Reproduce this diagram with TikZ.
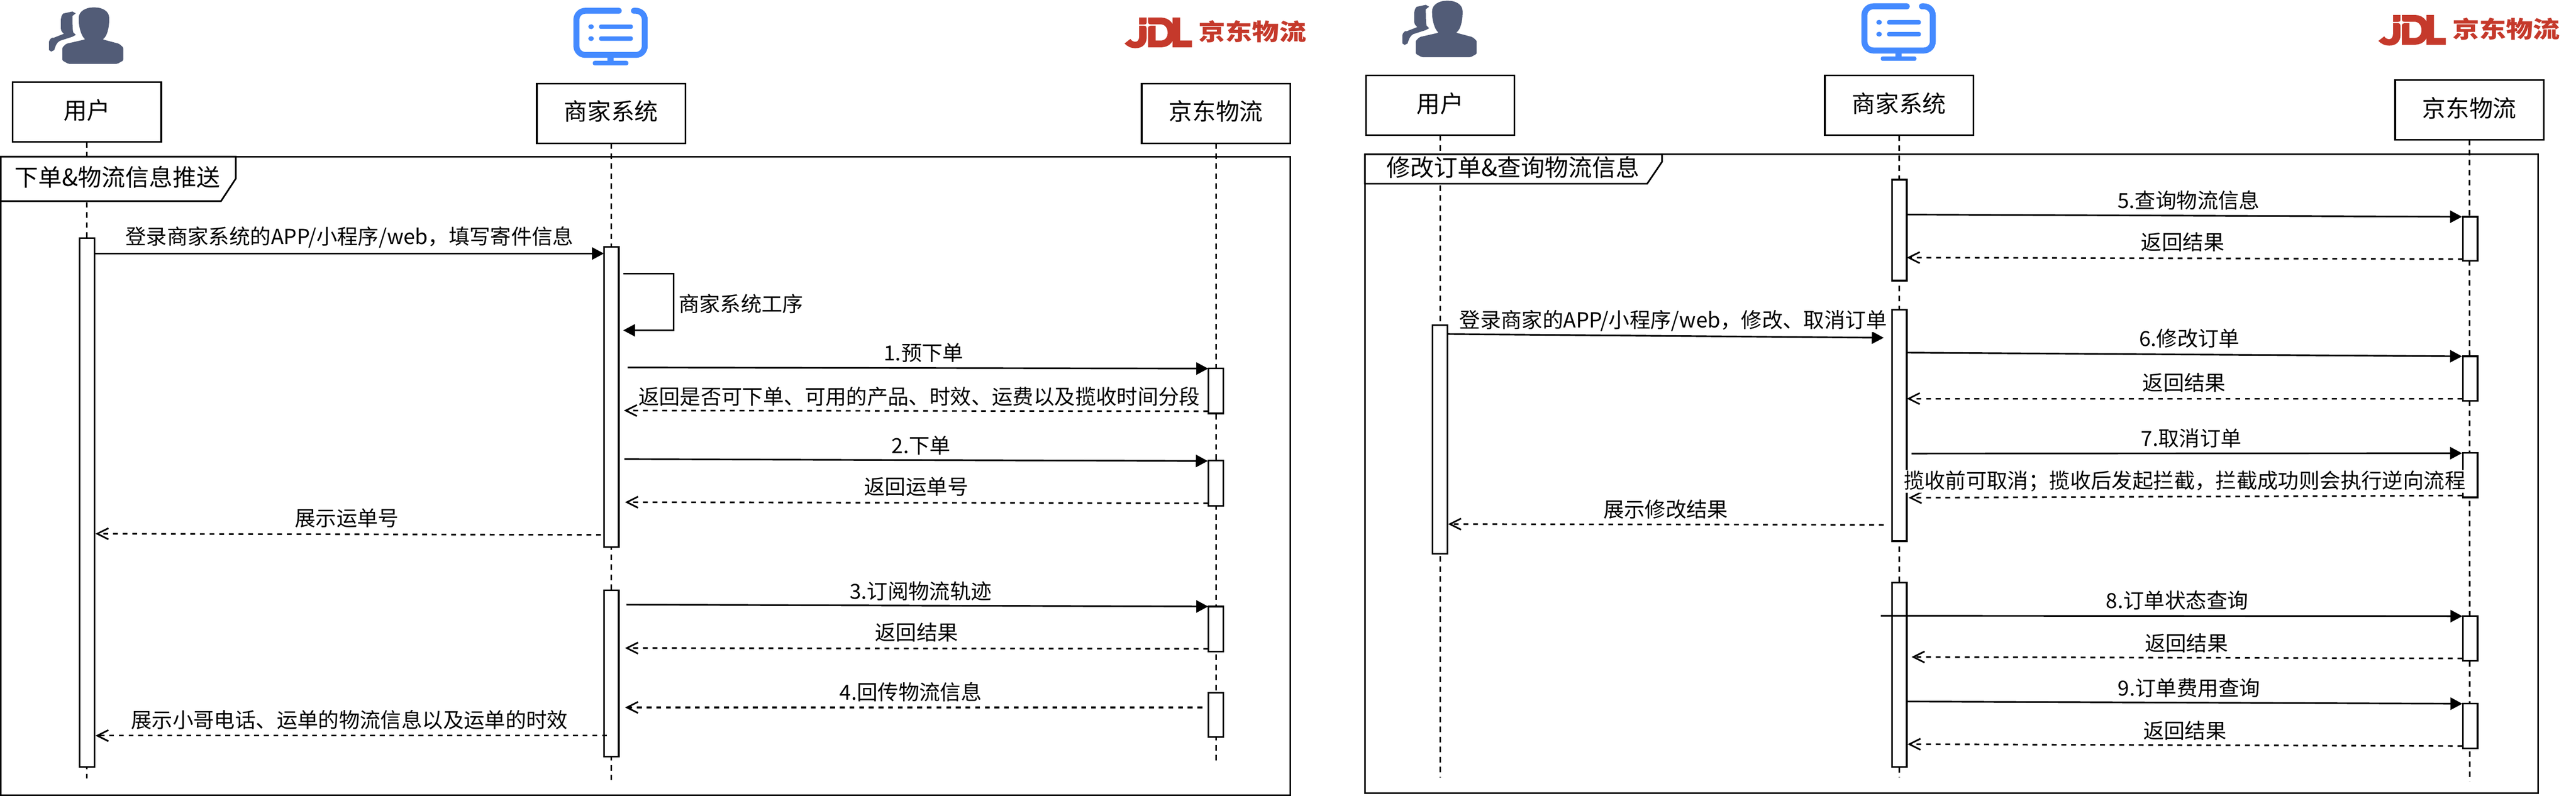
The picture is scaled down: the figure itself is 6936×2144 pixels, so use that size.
\documentclass[tikz,border=0pt]{standalone}
\usepackage{graphicx}
\usepackage{fontspec}
\setmainfont{Noto Sans CJK SC}
\usetikzlibrary{arrows.meta}
\definecolor{usercol}{HTML}{525C77}
\definecolor{moncol}{HTML}{448AFF}
\definecolor{jdlcol}{HTML}{C5392B}
\newcommand\actbar[4]{\node[actbox,minimum height={(#4-#3)*0.01cm}] (#1) at (#2,{(#3+#4)/2}) {};}
\tikzset{
  base/.style={line width=.044cm,draw=black},
  partbox/.style={base,fill=white,minimum width=4.0cm,minimum height=1.61cm,inner sep=0pt,outer sep=0pt,
    font=\fontsize{18pt}{20pt}\selectfont,text height=.60cm,text depth=.22cm},
  lifeline/.style={base,dash pattern=on .15cm off .12cm},
  framebox/.style={base},
  tabbox/.style={base,fill=white},
  tabtext/.style={inner sep=0pt,font=\fontsize{18.1pt}{20pt}\selectfont},
  actbox/.style={base,fill=white,minimum width=.40cm,inner sep=0pt,outer sep=0pt},
  msgsolid/.style={base,-{Triangle[length=.32cm,width=.33cm]}},
  msgret/.style={base,dash pattern=on .13cm off .13cm,-{Straight Barb[length=.30cm,width=.30cm]}},
  lbl/.style={fill=white,inner sep=.5pt,font=\fontsize{15.93pt}{18pt}\selectfont},
  pics/usericon/.style={code={
    \fill[usercol,rounded corners=.03cm] (168,163) -- (168,128) -- (178,118) -- (230,106) .. controls (220,98) and (212,75) .. (212,51)
      .. controls (212,30) and (232,20) .. (253,20) .. controls (275,20) and (294,30) .. (294,51)
      .. controls (294,75) and (288,98) .. (276,106) -- (321,118) -- (332,128) -- (332,163) -- (316,172) -- (184,172) -- cycle;
    \fill[usercol] (195,31) -- (204,36) -- (195,43) .. controls (195,60) and (195,75) .. (197,87) -- (204,94) -- (195,99)
      -- (161,110) .. controls (152,115) and (149,125) .. (146,135) -- (138,139) -- (132,135) -- (132,112)
      .. controls (134,105) and (140,100) .. (144,102) -- (172,91) .. controls (165,85) and (164,80) .. (164,77)
      -- (164,51) .. controls (165,42) and (170,35) .. (172,36) -- cycle;
  }},
  pics/monicon/.style={code={
    \draw[moncol,line width=.16cm,rounded corners=.24cm,line cap=round] (1666,29) -- (1552,29) -- (1552,148) -- (1736,148) -- (1736,29) -- (1707,29);
    \fill[moncol,rounded corners=.05cm] (1613,66) rectangle (1704,78);
    \fill[moncol,rounded corners=.05cm] (1613,98) rectangle (1704,110);
    \fill[moncol] (1591.5,72) ellipse [x radius=.075cm,y radius=.065cm];
    \fill[moncol] (1591.5,104) ellipse [x radius=.075cm,y radius=.065cm];
    \fill[moncol] (1636,150) rectangle (1652,166);
    \fill[moncol,rounded corners=.05cm] (1596,164) rectangle (1692,176);
  }},
  pics/jdlicon/.style={code={
    \begin{scope}[shift={(3000,30)},x=0.0035714cm,y=-0.0033333cm]
      \fill[jdlcol] (188,52) -- (245,52) -- (245,92) .. controls (245,102) and (238,108) .. (228,108) -- (188,108) -- cycle;
      \fill[jdlcol] (188,118) -- (225,118) .. controls (238,118) and (245,128) .. (245,140) -- (245,210)
        .. controls (245,270) and (210,300) .. (160,300) .. controls (125,300) and (98,285) .. (78,262) -- (122,225)
        .. controls (130,240) and (145,248) .. (160,248) .. controls (178,248) and (188,230) .. (188,205) -- cycle;
      \fill[jdlcol] (255,52) -- (350,52) .. controls (395,52) and (425,75) .. (440,105) -- (440,52) -- (497,52) -- (497,238)
        -- (586,238) -- (586,293) -- (440,293) -- (440,240) .. controls (425,272) and (395,293) .. (350,293) -- (255,293)
        -- (255,140) .. controls (255,125) and (265,118) .. (275,118) -- (312,118) -- (312,238) -- (350,238)
        .. controls (385,238) and (403,210) .. (403,175) .. controls (403,140) and (385,107) .. (350,107) -- (275,107)
        .. controls (262,107) and (255,100) .. (255,90) -- cycle;
      \node[inner sep=0pt,text=jdlcol,font=\fontsize{20.6pt}{22pt}\selectfont\bfseries] (#1) at (1042,164) {\scalebox{1}[.86]{京东物流}};
    \end{scope}
  }},
}
\begin{document}
\begin{tikzpicture}[x=0.01cm,y=-0.01cm]
\useasboundingbox (0,0) rectangle (6936,2144);
\fill[white] (0,0) rectangle (6936,2144);
% icons
\pic at (0,0) {usericon};
\pic at (3644,-18) {usericon};
\pic at (0,0) {monicon};
\pic at (3468,-12) {monicon};
\pic at (0,0) {jdlicon=jdlA};
\pic at (3376,-7) {jdlicon=jdlB};
%
% ===== left panel =====
\node[partbox] (u) at (234,302) {用户};
\node[partbox] (m) at (1645.5,305.5) {商家系统};
\node[partbox] (l) at (3274,305.5) {京东物流};
\coordinate (uend) at (234,2097);
\coordinate (mend) at (1645.5,2102);
\coordinate (lend) at (3274,2053);
\draw[lifeline] (u.south) -- (uend);
\draw[lifeline] (m.south) -- (mend);
\draw[lifeline] (l.south) -- (lend);
\draw[framebox] (2,422) rectangle (3474,2142);
\draw[tabbox] (2,422) -- (635,422) -- (635,481) -- (595,542) -- (2,542) -- cycle;
\node[tabtext] (ft) at (316,477) {下单\&物流信息推送};
\actbar{ua}{234}{641}{2066}
\actbar{ma}{1646}{665}{1474}
\actbar{mb}{1646}{1590}{2038}
\actbar{la}{3274}{993}{1114}
\actbar{lb}{3274}{1241}{1363}
\actbar{lc}{3274}{1634}{1755}
\actbar{ld}{3274}{1866}{1986}
% messages
\coordinate (a1) at (254,683); \coordinate (a2) at (1626,683);
\draw[msgsolid] (a1) -- (a2);
\node[lbl] (t1) at (941,640) {登录商家系统的APP/小程序/web，填写寄件信息};
\coordinate (s1) at (1678,737); \coordinate (s2) at (1814,737); \coordinate (s3) at (1814,890); \coordinate (s4) at (1678,890);
\draw[msgsolid] (s1) -- (s2) -- (s3) -- (s4);
\node[lbl] (t2) at (1995,819) {商家系统工序};
\coordinate (b1) at (1690,990); \coordinate (b2) at (3253,993);
\draw[msgsolid] (b1) -- (b2);
\node[lbl] (t3) at (2487,951) {1.预下单};
\coordinate (c1) at (3253,1108); \coordinate (c2) at (1680,1106);
\draw[msgret] (c1) -- (c2);
\node[lbl] (t4) at (2475,1068) {返回是否可下单、可用的产品、时效、运费以及揽收时间分段};
\coordinate (d1) at (1681,1237); \coordinate (d2) at (3252,1242);
\draw[msgsolid] (d1) -- (d2);
\node[lbl] (t5) at (2480,1200) {2.下单};
\coordinate (e1) at (3253,1356); \coordinate (e2) at (1683,1353);
\draw[msgret] (e1) -- (e2);
\node[lbl] (t6) at (2467,1312) {返回运单号};
\coordinate (f1) at (1618,1441); \coordinate (f2) at (257,1438);
\draw[msgret] (f1) -- (f2);
\node[lbl] (t7) at (934,1396) {展示运单号};
\coordinate (g1) at (1687,1629); \coordinate (g2) at (3253,1634);
\draw[msgsolid] (g1) -- (g2);
\node[lbl] (t8) at (2479,1592) {3.订阅物流轨迹};
\coordinate (h1) at (3253,1748); \coordinate (h2) at (1683,1746);
\draw[msgret] (h1) -- (h2);
\node[lbl] (t9) at (2468,1704) {返回结果};
\coordinate (i1) at (3237,1906); \coordinate (i2) at (1683,1906);
\draw[msgret] (i1) -- (i2);
\node[lbl] (t10) at (2452,1865) {4.回传物流信息};
\coordinate (j1) at (1634,1982); \coordinate (j2) at (257,1982);
\draw[msgret] (j1) -- (j2);
\node[lbl] (t11) at (941,1940) {展示小哥电话、运单的物流信息以及运单的时效};
%
% ===== right panel =====
\node[partbox] (U) at (3878,283.5) {用户};
\node[partbox] (M) at (5113.5,284) {商家系统};
\node[partbox] (L) at (6649,296) {京东物流};
\coordinate (Uend) at (3878,2094);
\coordinate (Mend) at (5114,2094);
\coordinate (Lend) at (6650,2106);
\draw[lifeline] (U.south) -- (Uend);
\draw[lifeline] (M.south) -- (Mend);
\draw[lifeline] (L.south) -- (Lend);
\draw[framebox] (3675,416) rectangle (6834,2137);
\draw[tabbox] (3675,416) -- (4475,416) -- (4475,436) -- (4435,495) -- (3675,495) -- cycle;
\node[tabtext] (FT) at (4074,451) {修改订单\&查询物流信息};
\actbar{Ua}{3877}{876}{1492}
\actbar{Ma}{5114}{484}{756}
\actbar{Mb}{5114}{834}{1458}
\actbar{Mc}{5114}{1570}{2066}
\actbar{La}{6651}{584}{703}
\actbar{Lb}{6651}{960}{1080}
\actbar{Lc}{6651}{1220}{1340}
\actbar{Ld}{6651}{1660}{1780}
\actbar{Le}{6651}{1896}{2016}
\coordinate (A1) at (5135,578); \coordinate (A2) at (6629,584);
\draw[msgsolid] (A1) -- (A2);
\node[lbl] (T1) at (5893,540) {5.查询物流信息};
\coordinate (B1) at (6631,698); \coordinate (B2) at (5134,694);
\draw[msgret] (B1) -- (B2);
\node[lbl] (T2) at (5877,652) {返回结果};
\coordinate (C1) at (3898,900); \coordinate (C2) at (5072,910);
\draw[msgsolid] (C1) -- (C2);
\node[lbl] (T3) at (4505,864) {登录商家的APP/小程序/web，修改、取消订单};
\coordinate (D1) at (5133,950); \coordinate (D2) at (6629,960);
\draw[msgsolid] (D1) -- (D2);
\node[lbl] (T4) at (5895,912) {6.修改订单};
\coordinate (E1) at (6630,1074); \coordinate (E2) at (5134,1074);
\draw[msgret] (E1) -- (E2);
\node[lbl] (T5) at (5881,1031) {返回结果};
\coordinate (F1) at (5147,1222); \coordinate (F2) at (6629,1221);
\draw[msgsolid] (F1) -- (F2);
\node[lbl] (T6) at (5900,1180) {7.取消订单};
\coordinate (G1) at (6630,1335); \coordinate (G2) at (5139,1341);
\draw[msgret] (G1) -- (G2);
\node[lbl] (T7) at (5882,1297) {揽收前可取消；揽收后发起拦截，拦截成功则会执行逆向流程};
\coordinate (H1) at (5072,1414); \coordinate (H2) at (3899,1412);
\draw[msgret] (H1) -- (H2);
\node[lbl] (T8) at (4485,1372) {展示修改结果};
\coordinate (I1) at (5064,1659); \coordinate (I2) at (6630,1660);
\draw[msgsolid] (I1) -- (I2);
\node[lbl] (T9) at (5862,1618) {8.订单状态查询};
\coordinate (J1) at (6630,1774); \coordinate (J2) at (5147,1770);
\draw[msgret] (J1) -- (J2);
\node[lbl] (T10) at (5887,1733) {返回结果};
\coordinate (K1) at (5134,1890); \coordinate (K2) at (6630,1896);
\draw[msgsolid] (K1) -- (K2);
\node[lbl] (T11) at (5894,1853) {9.订单费用查询};
\coordinate (N1) at (6630,2010); \coordinate (N2) at (5136,2005);
\draw[msgret] (N1) -- (N2);
\node[lbl] (T12) at (5883,1969) {返回结果};
\end{tikzpicture}
\end{document}
